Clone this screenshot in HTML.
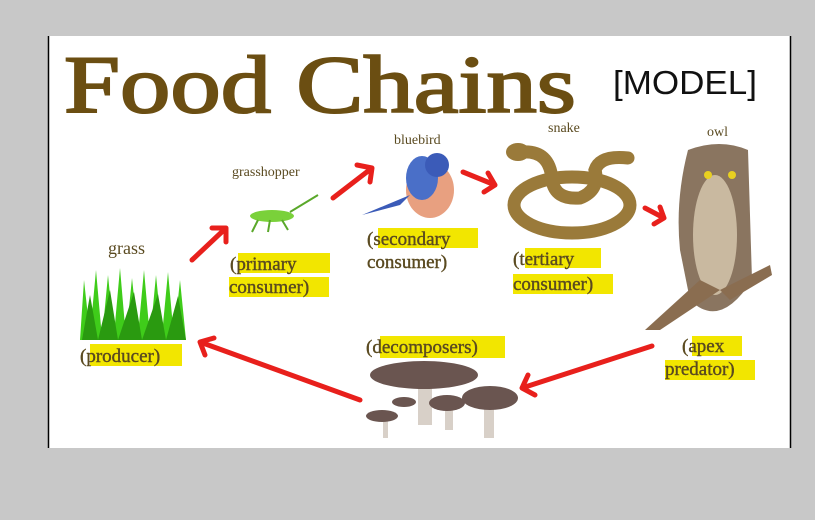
<!DOCTYPE html>
<html><head><style>
html,body{margin:0;padding:0;background:#c8c8c8;}
svg{display:block}
.s{font-family:"Liberation Serif",serif;fill:#5a4a20}
.h{fill:#f2e600}
</style></head><body>
<svg width="815" height="520" viewBox="0 0 815 520">
<rect width="815" height="520" fill="#c8c8c8"/>
<rect x="48" y="36" width="743" height="412" fill="#fff"/>
<line x1="48.5" y1="36" x2="48.5" y2="448" stroke="#000" stroke-width="1.5"/>
<line x1="790.5" y1="36" x2="790.5" y2="448" stroke="#000" stroke-width="1.5"/>
<text x="64" y="112" font-family="Liberation Serif,serif" font-size="82" fill="#6b4e12" stroke="#6b4e12" stroke-width="2" textLength="512" lengthAdjust="spacingAndGlyphs">Food Chains</text>
<text x="613" y="94" font-family="Liberation Sans,sans-serif" font-size="33" fill="#111" textLength="144" lengthAdjust="spacingAndGlyphs">[MODEL]</text>
<text class="s" x="108" y="254" font-size="18">grass</text>
<text class="s" x="232" y="176" font-size="14">grasshopper</text>
<text class="s" x="394" y="144" font-size="14">bluebird</text>
<text class="s" x="548" y="132" font-size="14">snake</text>
<text class="s" x="707" y="136" font-size="14">owl</text>
<rect class="h" x="90" y="344" width="92" height="22"/>
<rect class="h" x="238" y="253" width="92" height="20"/>
<rect class="h" x="229" y="277" width="100" height="20"/>
<rect class="h" x="378" y="228" width="100" height="20"/>
<rect class="h" x="525" y="248" width="76" height="20"/>
<rect class="h" x="513" y="274" width="100" height="20"/>
<rect class="h" x="380" y="336" width="125" height="22"/>
<rect class="h" x="692" y="336" width="50" height="20"/>
<rect class="h" x="665" y="360" width="90" height="20"/>
<g class="s" font-size="19" stroke="#5a4a20" stroke-width="0.4">
<text x="80" y="362">(producer)</text>
<text x="230" y="270">(primary</text>
<text x="229" y="293">consumer)</text>
<text x="367" y="245">(secondary</text>
<text x="367" y="268">consumer)</text>
<text x="513" y="265">(tertiary</text>
<text x="513" y="290">consumer)</text>
<text x="366" y="353">(decomposers)</text>
<text x="682" y="352">(apex</text>
<text x="665" y="375">predator)</text>
</g>
<g stroke="#e8201c" stroke-width="5" fill="none" stroke-linecap="round" stroke-linejoin="round">
<path d="M192 260 L226 228 M212 228 L226 228 L226 242"/>
<path d="M333 198 L372 168 M357 165 L372 168 L370 182"/>
<path d="M463 172 L495 185 M484 192 L495 185 L488 173"/>
<path d="M645 208 L664 218 M654 224 L664 218 L660 207"/>
<path d="M652 346 L522 388 M528 375 L522 388 L535 395"/>
<path d="M360 400 L200 342 M214 338 L200 342 L205 355"/>
</g>
<g fill="#3fcc1a">
<path d="M80 340 L84 280 L90 335 L96 270 L102 338 L108 275 L114 335 L120 268 L126 338 L132 278 L138 335 L144 270 L150 338 L156 275 L162 335 L168 272 L174 338 L180 280 L186 340 Z"/>
</g>
<path d="M82 340 L90 295 L98 340 L110 290 L118 340 L134 292 L142 340 L158 294 L166 340 L178 296 L186 340Z" fill="#2a9a10"/>
<ellipse cx="272" cy="216" rx="22" ry="6" fill="#7ad13a"/>
<path d="M258 220 L252 232 M270 220 L268 232 M282 220 L288 230 M290 212 L318 195" stroke="#5aa82a" stroke-width="2"/>
<ellipse cx="430" cy="190" rx="24" ry="28" fill="#e8a080"/>
<ellipse cx="422" cy="178" rx="16" ry="22" fill="#4a6fc8"/>
<circle cx="437" cy="165" r="12" fill="#3b5bb8"/>
<path d="M410 195 L362 215 L400 205Z" fill="#3b5bb8"/>
<g fill="none" stroke="#9a7a3a" stroke-width="13" stroke-linecap="round">
<ellipse cx="572" cy="205" rx="58" ry="28"/>
<path d="M522 152 Q550 150 552 180 Q555 200 580 198 Q600 190 595 170 Q600 155 628 158"/>
</g>
<ellipse cx="518" cy="152" rx="12" ry="9" fill="#9a7a3a"/>
<path d="M688 150 Q720 138 748 150 L752 280 Q720 330 690 300 L680 250 Q675 200 688 150Z" fill="#8a7560"/>
<ellipse cx="715" cy="235" rx="22" ry="60" fill="#c9b9a0"/>
<path d="M700 280 L645 330 L660 330 L720 290Z" fill="#8a6d50"/>
<path d="M720 290 L770 265 L772 275 L730 300Z" fill="#8a6d50"/>
<circle cx="708" cy="175" r="4" fill="#e8d020"/><circle cx="732" cy="175" r="4" fill="#e8d020"/>
<g fill="#d8d0c8">
<rect x="418" y="380" width="14" height="45"/>
<rect x="484" y="400" width="10" height="38"/>
<rect x="445" y="405" width="8" height="25"/>
<rect x="383" y="418" width="5" height="20"/>
</g>
<g fill="#6a5550">
<ellipse cx="424" cy="375" rx="54" ry="14"/>
<ellipse cx="490" cy="398" rx="28" ry="12"/>
<ellipse cx="447" cy="403" rx="18" ry="8"/>
<ellipse cx="404" cy="402" rx="12" ry="5"/>
<ellipse cx="382" cy="416" rx="16" ry="6"/>
</g>
</svg>
</body></html>
